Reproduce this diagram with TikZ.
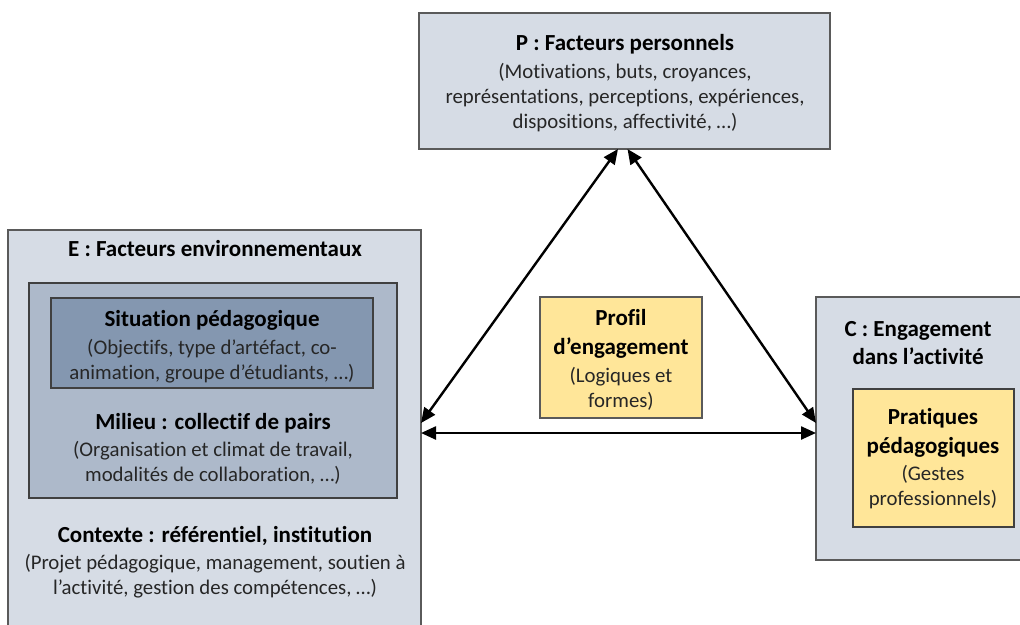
\documentclass[tikz,border=0pt]{standalone}
\usepackage{fontspec}
\setmainfont{Carlito}[Ligatures=NoCommon]
\usetikzlibrary{arrows.meta}
\definecolor{boxblue}{HTML}{D6DCE5}
\definecolor{midblue}{HTML}{ADB9CA}
\definecolor{darkblue}{HTML}{8497B0}
\definecolor{pale}{HTML}{FFE699}
\definecolor{edge}{HTML}{5A5A5A}
\definecolor{inedge}{HTML}{404040}
\begin{document}
\begin{tikzpicture}[x=1pt,y=-1pt,
  box/.style={draw=edge, line width=1.3pt, inner sep=0pt, outer sep=0pt, anchor=north west},
  inbox/.style={box, draw=inedge},
  body/.style={font=\fontsize{20.8}{25}\selectfont, align=center, text=black!85, inner sep=0pt},
  head/.style={font=\fontsize{23}{28.5}\selectfont\bfseries, align=center, text=black, inner sep=0pt},
  arr/.style={line width=2.4pt, {Triangle[length=15pt,width=13pt]}-{Triangle[length=15pt,width=13pt]}}
]
\useasboundingbox (0,0) rectangle (1020,624);
\clip (0,0) rectangle (1020,624);
% boxes
\node[box, fill=boxblue, minimum width=411, minimum height=136] (P) at (419,13) {};
\node[box, fill=boxblue, minimum width=413, minimum height=410] (E) at (8,230) {};
\node[inbox, fill=midblue, minimum width=368, minimum height=215] (M) at (29,283) {};
\node[inbox, fill=darkblue, minimum width=322, minimum height=90] (S) at (51,298) {};
\node[box, fill=pale, minimum width=162, minimum height=121] (Pr) at (540,297) {};
\node[box, fill=boxblue, minimum width=220, minimum height=263] (C) at (816,297) {};
\node[inbox, fill=pale, minimum width=161, minimum height=138] (Pq) at (853,389) {};
% texts
\node[head] (Pt) at (625,44) {P : Facteurs personnels};
\node[body] (Pb) at (625,98) {(Motivations, buts, croyances,\\représentations, perceptions, expériences,\\dispositions, affectivité, …)};
\node[head] (Et) at (215,249) {E : Facteurs environnementaux};
\node[head] (St) at (212,320) {Situation pédagogique};
\node[body] (Sb) at (212,361) {(Objectifs, type d’artéfact, co-\\animation, groupe d’étudiants, …)};
\node[head] (Mt) at (213,423) {Milieu : collectif de pairs};
\node[body] (Mb) at (213,463) {(Organisation et climat de travail,\\modalités de collaboration, …)};
\node[head] (Ct) at (215,536) {Contexte : référentiel, institution};
\node[body] (Cb) at (215,576) {(Projet pédagogique, management, soutien à\\l’activité, gestion des compétences, …)};
\node[head] (Prt) at (621,334) {Profil\\d’engagement};
\node[body] (Prb) at (621,389) {(Logiques et\\formes)};
\node[head] (Cht) at (918,343) {C : Engagement\\dans l’activité};
\node[head] (Pqt) at (933,433) {Pratiques\\pédagogiques};
\node[body] (Pqb) at (933,487) {(Gestes\\professionnels)};
% connectors
\draw[arr] ([xshift=-6.5pt]P.south) -- ([yshift=12pt]E.east);
\draw[arr] ([xshift=3pt]P.south) -- ([yshift=5.5pt]C.west);
\draw[arr] ([yshift=2pt]E.east) -- ([yshift=-4.5pt]C.west);
\end{tikzpicture}
\end{document}
